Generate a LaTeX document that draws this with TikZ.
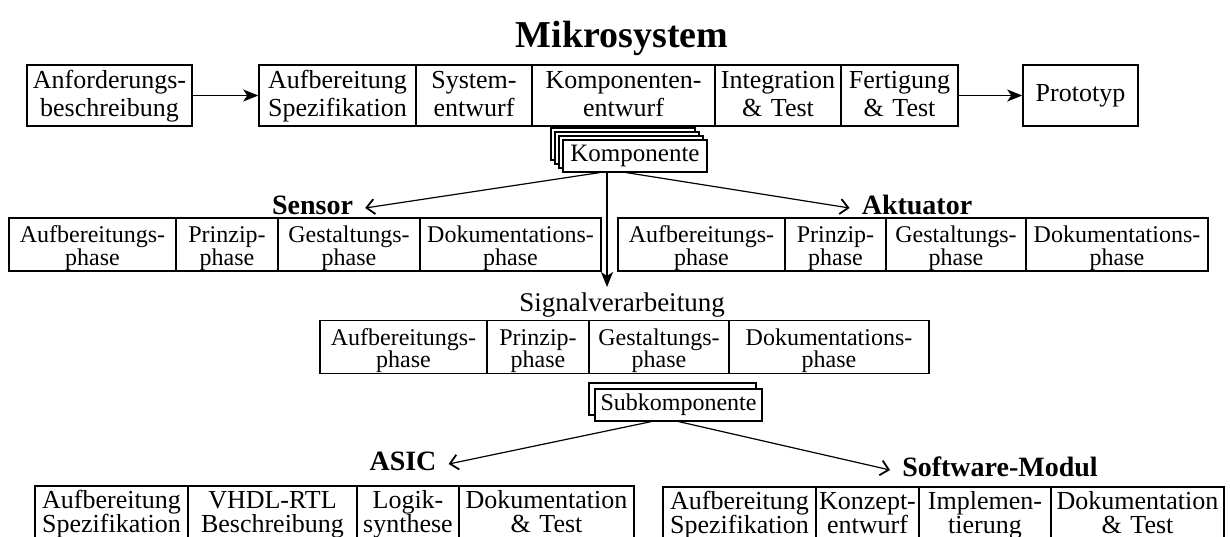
\documentclass[tikz,border=0pt]{standalone}
\usepackage{fontspec}
\setmainfont{Liberation Serif}
\usetikzlibrary{arrows.meta}
\newlength{\cellTop}
\newlength{\cellBot}
% two-line cell text with fixed first-line height and last-line depth
\newcommand{\twol}[2]{\rule{0pt}{\cellTop}#1\\#2\rule[-\cellBot]{0pt}{\cellBot}}
\begin{document}
\begin{tikzpicture}[x=1pt,y=1pt,
  frame/.style={draw, line width=1.5pt, inner sep=0pt, align=center, fill=white},
  cw/.style={text width=#1pt},
  toprow/.style={frame, font=\fontsize{26}{28}\selectfont, minimum height=61pt,
    execute at begin node={\setlength{\cellTop}{23pt}\setlength{\cellBot}{10pt}}},
  phaserow/.style={frame, font=\fontsize{24}{22.5}\selectfont, minimum height=53pt,
    execute at begin node={\setlength{\cellTop}{24.5pt}\setlength{\cellBot}{6pt}}},
  botrow/.style={frame, font=\fontsize{26}{24}\selectfont, minimum height=54pt,
    execute at begin node={\setlength{\cellTop}{22pt}\setlength{\cellBot}{8pt}}},
  stackbox/.style={draw, line width=1.1pt, fill=white, inner sep=0pt},
  heading/.style={font=\fontsize{28}{30}\selectfont\bfseries, anchor=base, inner sep=0pt},
  arr/.style={line width=1.6pt, -{Stealth[length=15pt,width=12pt,inset=4pt]}},
  darr/.style={line width=1.2pt, -{Straight Barb[length=8pt,width=15pt,line width=1.8pt]}}
]
\useasboundingbox (0,0) rectangle (1230,-536);

% ---- system level ----
\node[font=\fontsize{38}{40}\selectfont\bfseries, anchor=base, inner sep=0pt] (title) at (622,-47) {Mikrosystem};

\node[toprow, cw=165] (anf) at (109.5,-95.5) {\twol{Anforderungs-}{beschreibung}};
\node[toprow, cw=157] (a1) at (337.5,-95.5) {\twol{Aufbereitung}{Spezifikation}};
\node[toprow, cw=116] (a2) at (474,-95.5)   {\twol{System-}{entwurf}};
\node[toprow, cw=183] (a3) at (623.5,-95.5) {\twol{Komponenten-}{entwurf}};
\node[toprow, cw=126] (a4) at (778,-95.5)   {\twol{Integration}{\& Test}};
\node[toprow, cw=117] (a5) at (899.5,-95.5) {\twol{Fertigung}{\& Test}};
\node[toprow, cw=115] (proto) at (1080.5,-95.5) {Prototyp};

\draw[arr] (anf.east) -- (a1.west);
\draw[arr] (a5.east) -- (proto.west);

% ---- component stack ----
\foreach \i in {3,2,1}
  \node[stackbox, minimum width=144pt, minimum height=32pt] (kback\i) at ({635-4*\i},{-156+4*\i}) {};
\node[stackbox, minimum width=144pt, minimum height=32pt, font=\fontsize{25}{27}\selectfont] (komp) at (635,-156) {Komponente};

% ---- sensor / actuator ----
\node[heading] (sensor) at (312.5,-214) {Sensor};
\node[heading] (akt) at (917,-214) {Aktuator};

\node[phaserow, cw=167] (s1) at (92.5,-244.5) {\twol{Aufbereitungs-}{phase}};
\node[phaserow, cw=102] (s2) at (227,-244.5)  {\twol{Prinzip-}{phase}};
\node[phaserow, cw=142] (s3) at (349,-244.5)  {\twol{Gestaltungs-}{phase}};
\node[phaserow, cw=181] (s4) at (510.5,-244.5) {\twol{Dokumentations-}{phase}};

\node[phaserow, cw=167] (k1) at (701.5,-244.5) {\twol{Aufbereitungs-}{phase}};
\node[phaserow, cw=101] (k2) at (835.5,-244.5) {\twol{Prinzip-}{phase}};
\node[phaserow, cw=140] (k3) at (956,-244.5)   {\twol{Gestaltungs-}{phase}};
\node[phaserow, cw=182] (k4) at (1117,-244.5)  {\twol{Dokumentations-}{phase}};

\draw[darr] ([xshift=-35pt]komp.south) -- ([xshift=12pt,yshift=6pt]sensor.base east);
\draw[darr] ([xshift=-9pt]komp.south) -- ([xshift=-12pt,yshift=6pt]akt.base west);

% ---- signal processing ----
\node[font=\fontsize{27}{29}\selectfont, anchor=base, inner sep=0pt] (sig) at (622,-311) {Signalverarbeitung};
\coordinate (sigtip) at (607,-287);
\draw[arr] ([xshift=-28pt]komp.south) -- (sigtip);

\node[phaserow, cw=167] (g1) at (403.5,-347) {\twol{Aufbereitungs-}{phase}};
\node[phaserow, cw=102] (g2) at (538,-347)   {\twol{Prinzip-}{phase}};
\node[phaserow, cw=140] (g3) at (659,-347)   {\twol{Gestaltungs-}{phase}};
\node[phaserow, cw=200] (g4) at (829,-347)   {\twol{Dokumentations-}{phase}};

% ---- subcomponent stack ----
\node[stackbox, minimum width=167pt, minimum height=32pt] (sback) at (672.5,-399) {};
\node[stackbox, minimum width=167pt, minimum height=32pt, font=\fontsize{24}{26}\selectfont] (subk) at (678.5,-405) {Subkomponente};

% ---- ASIC / software module ----
\node[heading] (asic) at (403,-470) {ASIC};
\node[heading] (sw) at (1000,-476) {Software-Modul};

\draw[darr] ([xshift=-27pt]subk.south) -- ([xshift=12pt,yshift=6pt]asic.base east);
\draw[darr] (subk.south) -- ([xshift=-12pt,yshift=6pt]sw.base west);

\node[botrow, cw=153] (b1) at (111.5,-513) {\twol{Aufbereitung}{Spezifikation}};
\node[botrow, cw=169] (b2) at (272.5,-513) {\twol{VHDL-RTL}{Beschreibung}};
\node[botrow, cw=102] (b3) at (408,-513)   {\twol{Logik-}{synthese}};
\node[botrow, cw=175] (b4) at (546.5,-513) {\twol{Dokumentation}{\& Test}};

\node[botrow, cw=153] (w1) at (739.5,-514) {\twol{Aufbereitung}{Spezifikation}};
\node[botrow, cw=103] (w2) at (867.5,-514) {\twol{Konzept-}{entwurf}};
\node[botrow, cw=132] (w3) at (985,-514)   {\twol{Implemen-}{tierung}};
\node[botrow, cw=173] (w4) at (1137.5,-514) {\twol{Dokumentation}{\& Test}};
\end{tikzpicture}
\end{document}
